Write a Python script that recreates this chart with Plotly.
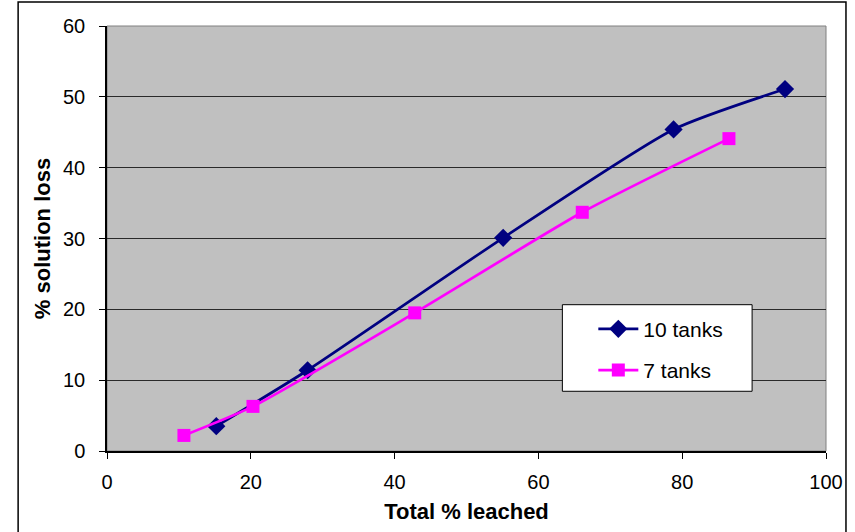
import plotly.graph_objects as go

x10 = [15.2, 27.9, 55.1, 78.8, 94.3]
y10 = [3.5, 11.4, 30.1, 45.4, 51.1]
x7 = [10.7, 20.3, 42.8, 66.1, 86.5]
y7 = [2.2, 6.3, 19.5, 33.7, 44.1]
xticks = [0, 20, 40, 60, 80, 100]
yticks = [0, 10, 20, 30, 40, 50, 60]

FONT = "Liberation Sans, Arial, sans-serif"

fig = go.Figure()
fig.add_trace(go.Scatter(x=x10, y=y10, name="10 tanks", mode="lines+markers", legendgroup="a",
                         line=dict(color="#000080", width=2.7, shape="spline", smoothing=0.6),
                         marker=dict(symbol="diamond", size=14, color="#000080")))
fig.add_trace(go.Scatter(x=x7, y=y7, name="7 tanks", mode="lines+markers", legendgroup="b",
                         line=dict(color="#FF00FF", width=2.7, shape="spline", smoothing=0.6),
                         marker=dict(symbol="square", size=13, color="#FF00FF")))

PW, PH = 720, 427
def px(x):
    return (x - 107) / PW
def py(y):
    return (453 - y) / PH

fig.update_layout(
    width=855, height=532,
    margin=dict(l=107, r=28, t=26, b=79),
    paper_bgcolor="white", plot_bgcolor="#C0C0C0",
    font=dict(family=FONT, size=20, color="black"),
    showlegend=True,
    legend=dict(x=px(594), y=py(310), xanchor="left", yanchor="top",
                bgcolor="rgba(0,0,0,0)", borderwidth=0,
                font=dict(size=21), itemwidth=40, traceorder="grouped", tracegroupgap=11),
    shapes=[
        dict(type="rect", xref="paper", yref="paper", x0=0, x1=1, y0=0, y1=1,
             line=dict(color="#808080", width=1), layer="below"),
        dict(type="rect", xref="paper", yref="paper",
             x0=px(18), x1=px(847), y0=py(560), y1=py(2),
             line=dict(color="black", width=1.5)),
        dict(type="rect", xref="paper", yref="paper",
             x0=px(563), x1=px(753), y0=py(393), y1=py(306),
             fillcolor="white", line=dict(color="black", width=1), layer="above"),
    ],
)
fig.update_xaxes(range=[0, 100], tickvals=xticks, showgrid=False, zeroline=False,
                 showline=True, linecolor="black", linewidth=1.5,
                 ticks="outside", ticklen=6, tickcolor="black", ticklabelstandoff=6,
                 title=dict(text="<b>Total % leached</b>", font=dict(size=22), standoff=12))
fig.update_yaxes(range=[0, 60], tickvals=yticks, showgrid=True, gridcolor="#2a2a2a", gridwidth=1,
                 zeroline=False, showline=True, linecolor="black", linewidth=1.5,
                 ticks="outside", ticklen=6, tickcolor="black", ticklabelstandoff=10,
                 title=dict(text="<b>% solution loss</b>", font=dict(size=22), standoff=6))

fig.write_html("out.html")
